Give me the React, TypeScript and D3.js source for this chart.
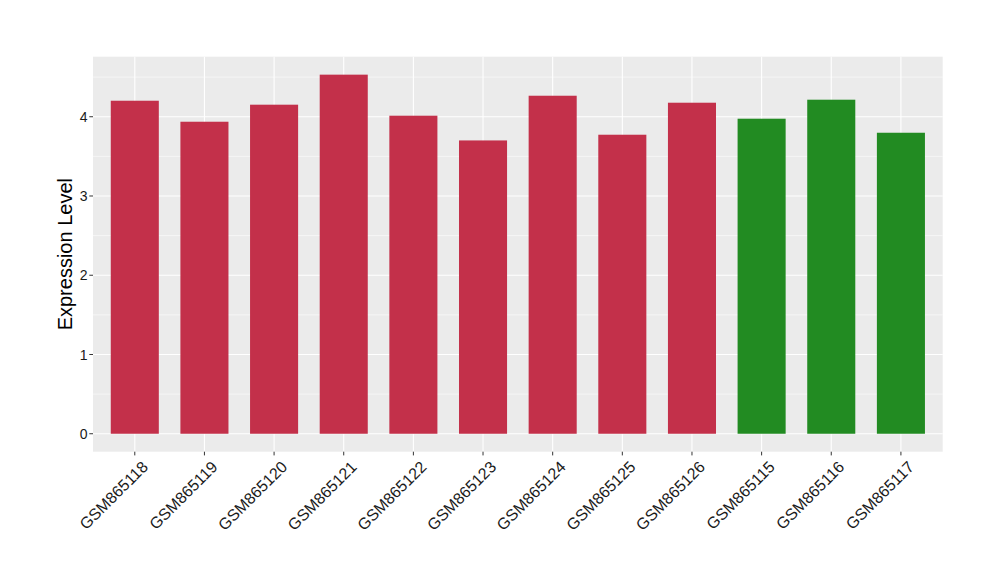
import React from "react";
import * as d3 from "d3";

const samples = ["GSM865118","GSM865119","GSM865120","GSM865121","GSM865122","GSM865123","GSM865124","GSM865125","GSM865126","GSM865115","GSM865116","GSM865117"];
const values = [4.202, 3.937, 4.152, 4.531, 4.013, 3.701, 4.265, 3.773, 4.177, 3.975, 4.215, 3.798];
const groups = ["A","A","A","A","A","A","A","A","A","B","B","B"];
const groupColors: Record<string, string> = { A: "#C3304A", B: "#228B22" };
const yTicks = [0, 1, 2, 3, 4];
const yMinor = [0.5, 1.5, 2.5, 3.5, 4.5];

export default function App() {
  const W = 1000, H = 580;
  const left = 93, right = 942.7, top = 56.7, bottom = 451.7;
  const maxV = d3.max(values) as number;
  const pad = maxV * 0.05;
  const y = d3.scaleLinear().domain([-pad, maxV + pad]).range([bottom, top]);
  const n = samples.length;
  const x = d3.scaleLinear().domain([0.4, n + 0.6]).range([left, right]);
  const unit = x(2) - x(1);
  const bw = unit * 0.69;
  const font = "'Liberation Sans', Arial, Helvetica, sans-serif";
  return (
    <div style={{ position: "absolute", left: 0, top: 0 }}>
      <svg width={W} height={H} style={{ display: "block", background: "#fff" }} fontFamily={font}>
        <rect x={left} y={top} width={right - left} height={bottom - top} fill="#EBEBEB" />
        {yMinor.map(v => y(v) > top ? (
          <line key={"m" + v} x1={left} x2={right} y1={y(v)} y2={y(v)} stroke="#fff" strokeWidth={0.55} />
        ) : null)}
        {yTicks.map(v => (
          <line key={"g" + v} x1={left} x2={right} y1={y(v)} y2={y(v)} stroke="#fff" strokeWidth={1.1} />
        ))}
        {samples.map((s, i) => (
          <line key={"v" + s} x1={x(i + 1)} x2={x(i + 1)} y1={top} y2={bottom} stroke="#fff" strokeWidth={1.1} />
        ))}
        {samples.map((s, i) => (
          <rect key={"b" + s} x={x(i + 1) - bw / 2} width={bw} y={y(values[i])} height={y(0) - y(values[i])} fill={groupColors[groups[i]]} />
        ))}
        {yTicks.map(v => (
          <g key={"t" + v}>
            <line x1={left - 3.7} x2={left} y1={y(v)} y2={y(v)} stroke="#333" strokeWidth={1} />
            <text x={left - 5.5} y={y(v)} dy="0.36em" textAnchor="end" fontSize={14} fill="#1a1a1a">{v}</text>
          </g>
        ))}
        {samples.map((s, i) => (
          <g key={"xt" + s}>
            <line x1={x(i + 1)} x2={x(i + 1)} y1={bottom} y2={bottom + 3.7} stroke="#333" strokeWidth={1} />
            <text transform={`translate(${x(i + 1) + 6},${bottom + 8}) rotate(-45)`} textAnchor="end" dy="0.72em" fontSize={16} fill="#1a1a1a">{s}</text>
          </g>
        ))}
        <text transform={`translate(72,${(top + bottom) / 2}) rotate(-90)`} textAnchor="middle" fontSize={20} fill="#000">Expression Level</text>
      </svg>
    </div>
  );
}
